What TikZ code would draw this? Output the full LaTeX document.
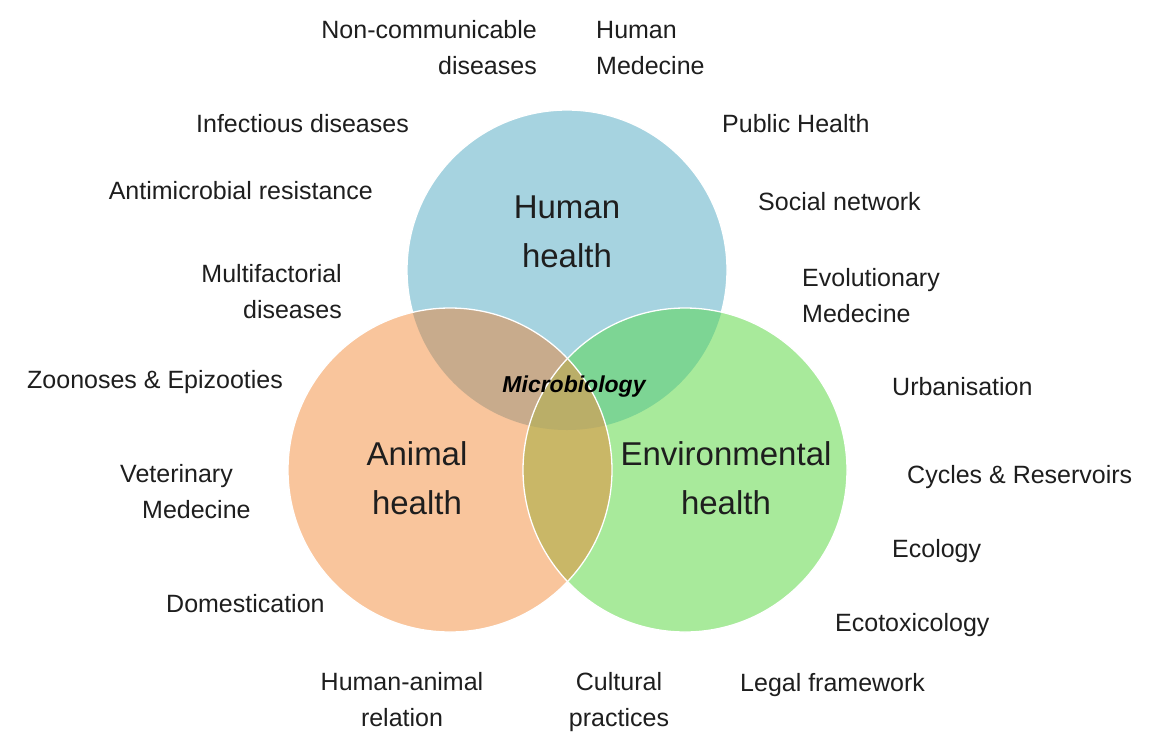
\documentclass[tikz,border=0pt]{standalone}
\usepackage{fontspec}
\setmainfont{Liberation Sans}
\definecolor{hcol}{HTML}{A6D3E0}
\definecolor{acol}{HTML}{F9C59C}
\definecolor{ecol}{HTML}{A8EA9B}
\definecolor{hacol}{HTML}{C8AB8C}
\definecolor{hecol}{HTML}{7DD594}
\definecolor{aecol}{HTML}{C9B767}
\definecolor{allcol}{HTML}{BAAE68}
\definecolor{txt}{HTML}{1E1E1E}
\def\HC{(567,270) circle[radius=160pt]}
\def\AC{(450,470) circle[radius=162pt]}
\def\EC{(685,470) circle[radius=162pt]}
\tikzset{
  lab/.style={inner sep=0pt, font=\fontsize{25}{36}\selectfont, text=txt},
  big/.style={inner sep=0pt, font=\fontsize{33}{49}\selectfont, text=txt, align=center},
  rim/.style={draw=white, line width=1.3pt}
}
\begin{document}
\begin{tikzpicture}[x=1pt,y=-1pt]
\useasboundingbox (0,0) rectangle (1159,732);
\fill[white] (0,0) rectangle (1159,732);
% circles
\fill[hcol] \HC;
\draw[rim] \HC;
\fill[acol] \AC;
\fill[ecol] \EC;
\begin{scope}
  \clip \AC;
  \fill[hacol] \HC;
\end{scope}
\begin{scope}
  \clip \EC;
  \fill[hecol] \HC;
\end{scope}
\begin{scope}
  \clip \AC;
  \fill[aecol] \EC;
\end{scope}
\begin{scope}
  \clip \AC;
  \clip \EC;
  \fill[allcol] \HC;
\end{scope}
\draw[rim] \AC;
\draw[rim] \EC;
% inner labels (base = baseline of last line)
\node[big, anchor=base] (hh) at (567,267) {Human\\health};
\node[big, anchor=base] (ah) at (417,514) {Animal\\health};
\node[big, anchor=base] (eh) at (726,514) {Environmental\\health};
\node[inner sep=0pt, anchor=base, font=\fontsize{23}{28}\selectfont\bfseries\itshape, text=black] (mb) at (574,392) {Microbiology};
% outer labels
\node[lab, anchor=base east, align=right] (ncd) at (537,74) {Non-communicable\\diseases};
\node[lab, anchor=base west, align=left] (hm) at (596,74) {Human\\Medecine};
\node[lab, anchor=base east] (inf) at (409,132) {Infectious diseases};
\node[lab, anchor=base west] (ph) at (722,132) {Public Health};
\node[lab, anchor=base east] (amr) at (373,199) {Antimicrobial resistance};
\node[lab, anchor=base west] (sn) at (758,210) {Social network};
\node[lab, anchor=base east, align=right] (mfd) at (342,318) {Multifactorial\\diseases};
\node[lab, anchor=base west, align=left] (evm) at (802,322) {Evolutionary\\Medecine};
\node[lab, anchor=base west] (zoo) at (27,388) {Zoonoses \& Epizooties};
\node[lab, anchor=base west] (urb) at (892,395) {Urbanisation};
\node[lab, anchor=base west, align=left] (vet) at (120,518) {Veterinary\\\hspace*{22pt}Medecine};
\node[lab, anchor=base west] (cyc) at (907,483) {Cycles \& Reservoirs};
\node[lab, anchor=base west] (eco) at (892,557) {Ecology};
\node[lab, anchor=base west] (dom) at (166,612) {Domestication};
\node[lab, anchor=base west] (etx) at (835,631) {Ecotoxicology};
\node[lab, anchor=base, align=center] (har) at (402,726) {Human-animal\\relation};
\node[lab, anchor=base, align=center] (cul) at (619,726) {Cultural\\practices};
\node[lab, anchor=base west] (leg) at (740,691) {Legal framework};
\end{tikzpicture}
\end{document}
